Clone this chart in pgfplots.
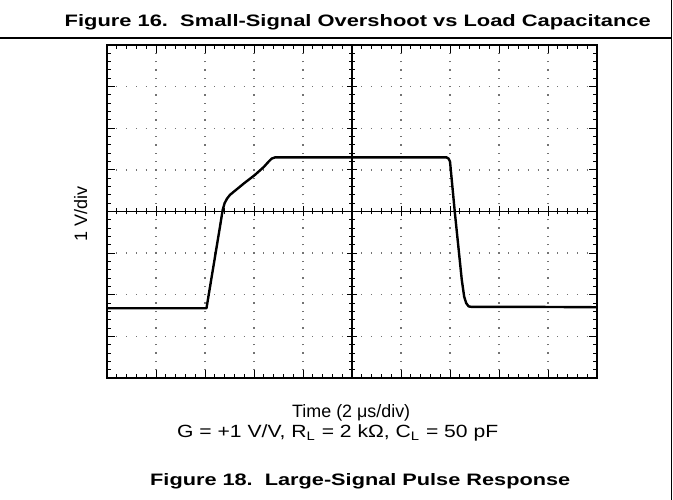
\documentclass[border=0pt]{standalone}
\usepackage{fontspec}
\setmainfont{Liberation Sans}
\usepackage{graphicx}
\usepackage{pgfplots}
\pgfplotsset{compat=1.18}
\pgfplotstableread{
x y
0.00 1.675
2.03 1.675
2.306 3.637
2.361 4.04
2.40 4.20
2.45 4.31
2.51 4.40
2.80 4.68
3.02 4.88
3.20 5.07
3.30 5.20
3.36 5.27
3.43 5.30
6.93 5.30
6.97 5.27
7.00 5.20
7.10 3.96
7.24 2.36
7.29 1.95
7.33 1.80
7.38 1.72
7.43 1.71
8.43 1.71
10.0 1.70
}\wave
\begin{document}
\begin{tikzpicture}[x=1bp,y=1bp]
\path[use as bounding box] (0,0) rectangle (673,500);
\pgfplotsset{base/.style={width=490bp,height=333bp,scale only axis,at={(107bp,122bp)},anchor=south west,xticklabels={},yticklabels={}}}
% frame with grid
\begin{axis}[base, xmin=0,xmax=10,ymin=0,ymax=8,
  xtick={0,...,10}, ytick={0,...,8}, minor x tick num=4, minor y tick num=4,
  xticklabels={}, yticklabels={},
  tick align=inside, major tick length=8bp, minor tick length=4bp,
  tick style={black,line width=1bp},
  axis line style={line width=2.2bp},
  grid=major,
  major x grid style={black!55, line width=1.3bp, dash pattern=on 1.3bp off 7.025bp, dash phase=0.65bp},
  major y grid style={black!55, line width=1.3bp, dash pattern=on 1.3bp off 8.5bp, dash phase=0.65bp}]
\end{axis}
% centre cross
\begin{axis}[base, xmin=-5,xmax=5,ymin=-4,ymax=4,
  axis lines=middle, axis line style={line width=1.3bp,-},
  xtick={-5,...,5}, ytick={-4,...,4}, minor x tick num=4, minor y tick num=4,
  xticklabels={}, yticklabels={},
  tick align=center, major tick length=10bp, minor tick length=6bp,
  tick style={black,line width=1bp}]
\end{axis}
% waveform
\begin{axis}[base, xmin=0,xmax=10,ymin=0,ymax=8, hide axis]
\addplot[black, line width=2.4bp, line join=round] table {\wave};
\end{axis}
% page decorations
\draw[line width=1.5bp] (0,462) -- (671.5,462);
\draw[line width=1.5bp] (671.5,0) -- (671.5,500);
\node[anchor=base east, inner sep=0] at (651,473) {\resizebox{586bp}{12bp}{\bfseries Figure 16.\ \ Small-Signal Overshoot vs Load Capacitance}};
\node[anchor=base west, inner sep=0] at (150,14) {\resizebox{420bp}{12bp}{\bfseries Figure 18.\ \ Large-Signal Pulse Response}};
\node[anchor=base west, inner sep=0] at (292,82) {\resizebox{118bp}{!}{Time (2 μs/div)}};
\node[anchor=base west, inner sep=0] at (177,62) {\resizebox{321bp}{12.8bp}{G = +1 V/V, R\textsubscript{L} = 2 kΩ, C\textsubscript{L} = 50 pF}};
\node[anchor=base west, inner sep=0, rotate=90] at (87,258) {\resizebox{55bp}{!}{1 V/div}};
\end{tikzpicture}
\end{document}
